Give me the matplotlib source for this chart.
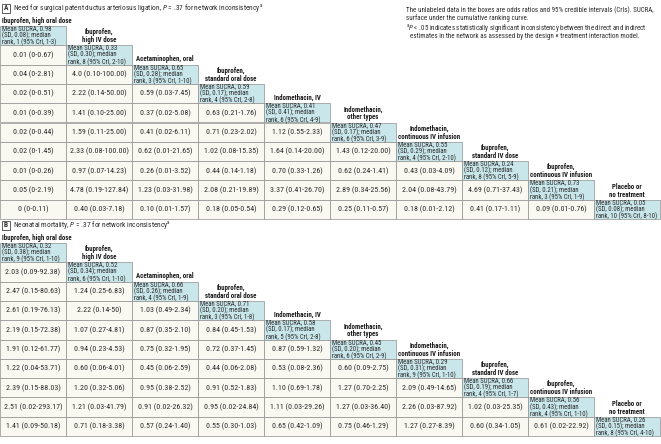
import matplotlib
matplotlib.use("Agg")
import matplotlib.pyplot as plt
from matplotlib.patches import Rectangle
from matplotlib import font_manager

ttf = font_manager.fontManager.ttflist
names = {f.name for f in ttf}
STRETCH = "normal"
FONT = "DejaVu Sans"
for cand in ["Liberation Sans Narrow", "Roboto Condensed", "Roboto", "Lato", "Liberation Sans"]:
    if cand in names:
        FONT = cand
        break
plt.rcParams["font.family"] = [FONT, "DejaVu Sans"]
plt.rcParams["mathtext.fontset"] = "custom"
plt.rcParams["mathtext.rm"] = FONT
plt.rcParams["mathtext.it"] = FONT + ":italic"

# ---------------- data ----------------
treatments = [
    "Ibuprofen, high oral dose",
    "Ibuprofen,\nhigh IV dose",
    "Acetaminophen, oral",
    "Ibuprofen,\nstandard oral dose",
    "Indomethacin, IV",
    "Indomethacin,\nother types",
    "Indomethacin,\ncontinuous IV infusion",
    "Ibuprofen,\nstandard IV dose",
    "Ibuprofen,\ncontinuous IV infusion",
    "Placebo or\nno treatment",
]

title_A = r"Need for surgical patent ductus arteriosus ligation, $\mathit{P}$ = .37 for network inconsistency$^{\mathrm{a}}$"
title_B = r"Neonatal mortality, $\mathit{P}$ = .37 for network inconsistency$^{\mathrm{a}}$"

sucra_mean_A = [0.98, 0.33, 0.65, 0.59, 0.41, 0.47, 0.55, 0.24, 0.73, 0.05]
sucra_sd_A = [0.08, 0.30, 0.28, 0.17, 0.41, 0.17, 0.29, 0.12, 0.21, 0.08]
rank_A = [1, 8, 3, 4, 6, 6, 4, 8, 3, 10]
rank_lo_A = [1, 2, 1, 2, 4, 3, 2, 5, 1, 8]
rank_hi_A = [3, 10, 10, 8, 9, 9, 10, 9, 9, 10]

or_A = [
    [],
    ["0.01 (0-0.67)"],
    ["0.04 (0-2.81)", "4.0 (0.10-100.00)"],
    ["0.02 (0-0.51)", "2.22 (0.14-50.00)", "0.59 (0.03-7.45)"],
    ["0.01 (0-0.39)", "1.41 (0.10-25.00)", "0.37 (0.02-5.08)", "0.63 (0.21-1.76)"],
    ["0.02 (0-0.44)", "1.59 (0.11-25.00)", "0.41 (0.02-6.11)", "0.71 (0.23-2.02)", "1.12 (0.55-2.33)"],
    ["0.02 (0-1.45)", "2.33 (0.08-100.00)", "0.62 (0.01-21.65)", "1.02 (0.08-15.35)", "1.64 (0.14-20.00)",
     "1.43 (0.12-20.00)"],
    ["0.01 (0-0.26)", "0.97 (0.07-14.23)", "0.26 (0.01-3.52)", "0.44 (0.14-1.18)", "0.70 (0.33-1.26)",
     "0.62 (0.24-1.41)", "0.43 (0.03-4.09)"],
    ["0.05 (0-2.19)", "4.78 (0.19-127.84)", "1.23 (0.03-31.98)", "2.08 (0.21-19.89)", "3.37 (0.41-26.70)",
     "2.89 (0.34-25.56)", "2.04 (0.08-43.79)", "4.69 (0.71-37.43)"],
    ["0 (0-0.11)", "0.40 (0.03-7.18)", "0.10 (0.01-1.57)", "0.18 (0.05-0.54)", "0.29 (0.12-0.65)",
     "0.25 (0.11-0.57)", "0.18 (0.01-2.12)", "0.41 (0.17-1.11)", "0.09 (0.01-0.76)"],
]

sucra_mean_B = [0.32, 0.52, 0.66, 0.71, 0.58, 0.45, 0.29, 0.66, 0.56, 0.26]
sucra_sd_B = [0.38, 0.34, 0.26, 0.20, 0.17, 0.20, 0.31, 0.19, 0.43, 0.15]
rank_B = [9, 6, 4, 3, 5, 6, 9, 4, 4, 8]
rank_lo_B = [1, 1, 1, 1, 2, 2, 1, 1, 1, 4]
rank_hi_B = [10, 10, 9, 8, 8, 9, 10, 7, 10, 10]

or_B = [
    [],
    ["2.03 (0.09-92.38)"],
    ["2.47 (0.15-80.63)", "1.24 (0.25-6.83)"],
    ["2.61 (0.19-76.13)", "2.22 (0.14-50)", "1.03 (0.49-2.34)"],
    ["2.19 (0.15-72.38)", "1.07 (0.27-4.81)", "0.87 (0.35-2.10)", "0.84 (0.45-1.53)"],
    ["1.91 (0.12-61.77)", "0.94 (0.23-4.53)", "0.75 (0.32-1.95)", "0.72 (0.37-1.45)", "0.87 (0.59-1.32)"],
    ["1.22 (0.04-53.71)", "0.60 (0.06-4.01)", "0.45 (0.06-2.59)", "0.44 (0.06-2.08)", "0.53 (0.08-2.36)",
     "0.60 (0.09-2.75)"],
    ["2.39 (0.15-88.03)", "1.20 (0.32-5.06)", "0.95 (0.38-2.52)", "0.91 (0.52-1.83)", "1.10 (0.69-1.78)",
     "1.27 (0.70-2.25)", "2.09 (0.49-14.65)"],
    ["2.51 (0.02-293.17)", "1.21 (0.03-41.79)", "0.91 (0.02-26.32)", "0.95 (0.02-24.84)", "1.11 (0.03-29.26)",
     "1.27 (0.03-36.40)", "2.26 (0.03-87.92)", "1.02 (0.03-25.35)"],
    ["1.41 (0.09-50.18)", "0.71 (0.18-3.38)", "0.57 (0.24-1.40)", "0.55 (0.30-1.03)", "0.65 (0.42-1.09)",
     "0.75 (0.46-1.29)", "1.27 (0.27-8.39)", "0.60 (0.34-1.05)", "0.61 (0.02-22.92)"],
]

note1 = "The unlabeled data in the boxes are odds ratios and 95% credible intervals (CrIs). SUCRA,"
note1b = "surface under the cumulative ranking curve."
note2a = r"$^{\mathrm{a}}$$\mathit{P}$ < .05 indicates statistically significant inconsistency between the direct and indirect"
note2b = "estimates in the network as assessed by the design × treatment interaction model."

# ---------------- layout ----------------
W, H = 661, 444
fig = plt.figure(figsize=(W / 100, H / 100), dpi=100)
ax = fig.add_axes([0, 0, 1, 1])
ax.set_xlim(0, W)
ax.set_ylim(H, 0)
ax.axis("off")
fig.canvas.draw()
renderer = fig.canvas.get_renderer()


def fit_size(s, target_px, **kw):
    t = ax.text(0, 0, s, fontsize=10, **kw)
    w = t.get_window_extent(renderer=renderer).width
    t.remove()
    return 10.0 * target_px / w


FS_CELL = fit_size("2.51 (0.02-293.17)", 57)
FS_DIAG = fit_size("rank, 10 (95% CrI, 8-10)", 61)
FS_HEAD = fit_size("continuous IV infusion", 62, weight="bold")
FS_TITLE = fit_size(title_A, 250)
FS_NOTE = fit_size(note1, 246)

COLW = 66.0
ROWH = 19.3
DIAG = "#c9e6ea"
CELL = "#f9f8f1"
EDGE = "#8f8f8f"
TXT = "#2b2b2b"


def panel(letter, title, y_title, top, means, sds, ranks, los, his, ors):
    ax.add_patch(Rectangle((2, y_title - 4.5), 8, 9, fill=False, ec="#444444", lw=0.6))
    ax.text(6, y_title, letter, ha="center", va="center", fontsize=FS_TITLE, color=TXT, weight="bold")
    ax.text(13, y_title, title, ha="left", va="center", fontsize=FS_TITLE, color=TXT)
    n = len(treatments)
    for i in range(n):
        y0 = top + i * ROWH
        for j, s in enumerate(ors[i]):
            x0 = j * COLW
            ax.add_patch(Rectangle((x0, y0), COLW, ROWH, fc=CELL, ec=EDGE, lw=0.5))
            ax.text(x0 + COLW / 2, y0 + ROWH / 2, s, ha="center", va="center",
                    fontsize=FS_CELL, color=TXT)
        x0 = i * COLW
        ax.add_patch(Rectangle((x0, y0), COLW, ROWH, fc=DIAG, ec=EDGE, lw=0.5))
        txt = (f"Mean SUCRA, {means[i]:.2f}\n(SD, {sds[i]:.2f}); median\n"
               f"rank, {ranks[i]} (95% CrI, {los[i]}-{his[i]})")
        ax.text(x0 + 2.5, y0 + ROWH / 2 + 0.3, txt, ha="left", va="center", fontsize=FS_DIAG,
                color=TXT, linespacing=0.92)
        if i == 0:
            ax.text(2, y0 - 1.2, treatments[i], ha="left", va="bottom", fontsize=FS_HEAD,
                    color="#1a1a1a", weight="bold")
        else:
            ax.text(x0 + COLW / 2, y0 - 1.2, treatments[i], ha="center", va="bottom",
                    fontsize=FS_HEAD, color="#1a1a1a", weight="bold", linespacing=1.0)


panel("A", title_A, 8.5, 26.0, sucra_mean_A, sucra_sd_A, rank_A, rank_lo_A, rank_hi_A, or_A)
panel("B", title_B, 225.0, 243.0, sucra_mean_B, sucra_sd_B, rank_B, rank_lo_B, rank_hi_B, or_B)

ax.text(406, 10, note1, ha="left", va="center", fontsize=FS_NOTE, color=TXT)
ax.text(406, 18, note1b, ha="left", va="center", fontsize=FS_NOTE, color=TXT)
ax.text(406, 28.5, note2a, ha="left", va="center", fontsize=FS_NOTE, color=TXT)
ax.text(409.5, 36.5, note2b, ha="left", va="center", fontsize=FS_NOTE, color=TXT)

fig.savefig("out.png", dpi=100)
